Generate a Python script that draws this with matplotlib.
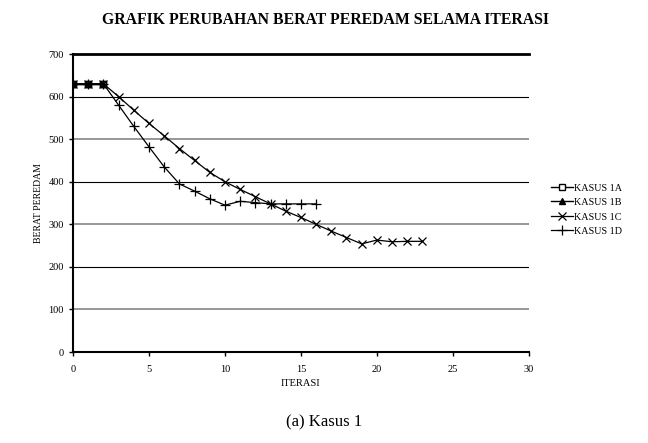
import matplotlib
matplotlib.use("Agg")
import matplotlib.pyplot as plt

iter_ab = [0, 1, 2]
kasus_1a = [630, 630, 630]
kasus_1b = [630, 630, 630]

iter_c = list(range(24))
kasus_1c = [630, 630, 630, 600, 568, 537, 508, 478, 450, 422, 400, 382,
            365, 348, 331, 316, 300, 284, 269, 254, 263, 259, 260, 260]

iter_d = list(range(17))
kasus_1d = [630, 630, 630, 580, 530, 482, 435, 395, 378, 360, 345, 354,
            351, 348, 348, 348, 348]

plt.rcParams['font.family'] = ['Liberation Serif', 'DejaVu Serif']

fig = plt.figure(figsize=(6.48, 4.43), dpi=100)
ax = fig.add_axes([0.1127, 0.2054, 0.7033, 0.6726])

ax.plot(iter_ab, kasus_1a, color='black', lw=1, marker='s', ms=5,
        mfc='white', mec='black', label='KASUS 1A')
ax.plot(iter_ab, kasus_1b, color='black', lw=1, marker='^', ms=5,
        mfc='black', mec='black', label='KASUS 1B')
ax.plot(iter_c, kasus_1c, color='black', lw=0.9, marker='x', ms=6,
        mew=0.9, label='KASUS 1C')
ax.plot(iter_d, kasus_1d, color='black', lw=0.9, marker='+', ms=7,
        mew=0.9, label='KASUS 1D')
# the filled squares at the start
ax.plot(iter_ab, kasus_1a, ls='none', marker='s', ms=5, color='#222222', zorder=1)

ax.set_xlim(0, 30)
ax.set_ylim(0, 700)
ax.set_xticks(range(0, 31, 5))
ax.set_yticks(range(0, 701, 100))
# grid lines, every other one looks a bit grey in the original
for yv in range(100, 700, 100):
    if yv % 200 == 0:
        ax.axhline(yv, color='black', lw=0.8, zorder=0)
    else:
        ax.axhline(yv, color='#7a7a7a', lw=1.1, zorder=0)
ax.axhline(700, color='black', lw=2, clip_on=False)
ax.spines['top'].set_visible(False)
ax.spines['right'].set_visible(False)
ax.spines['left'].set_linewidth(1.5)
ax.spines['bottom'].set_linewidth(1.5)
ax.tick_params(axis='both', labelsize=7.5, length=3, width=1, direction='out')
ax.tick_params(axis='x', pad=6)

ax.set_xlabel('ITERASI', fontsize=7.5, labelpad=4)
ax.set_ylabel('BERAT PEREDAM', fontsize=7, labelpad=4)
fig.text(0.503, 0.955, 'GRAFIK PERUBAHAN BERAT PEREDAM SELAMA ITERASI',
         ha='center', va='center', fontsize=11.3, fontweight='bold')

ax.legend(loc='center left', bbox_to_anchor=(1.048, 0.4775), frameon=False,
          fontsize=7.3, handlelength=2.2, handletextpad=0.1, labelspacing=0.53,
          borderpad=0, borderaxespad=0)

fig.text(0.5, 0.047, '(a) Kasus 1', ha='center', va='center', fontsize=12)

fig.savefig('out.png', dpi=100)
